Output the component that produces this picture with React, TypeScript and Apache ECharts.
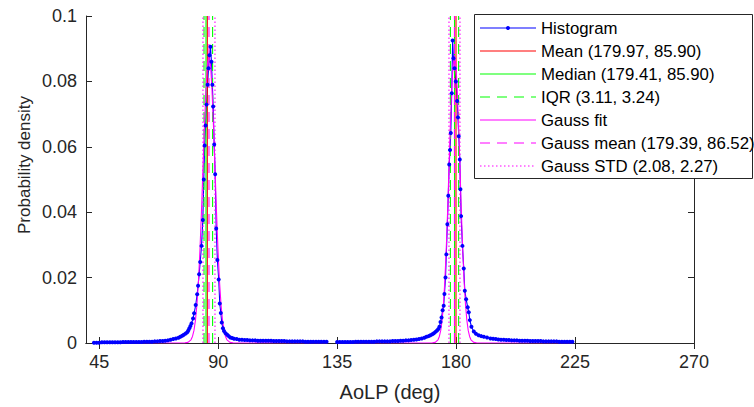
import React, { useEffect, useRef } from "react";
import * as echarts from "echarts";

const xTicks = [45, 90, 135, 180, 225, 270];

const histX1 = [43, 44, 45, 46, 47, 48, 49, 50, 51, 52, 53, 54, 55, 56, 57, 58, 59, 60, 61, 62, 63, 64, 65, 66, 67, 68, 69, 70, 71, 72, 73, 74, 75, 75.7, 76.4, 77, 77.7, 78.3, 78.7, 79.1, 79.5, 79.9, 80.5, 80.9, 81.5, 82.05, 82.4, 82.8, 83.2, 83.7, 84.2, 84.55, 84.9, 85.25, 85.6, 86.0, 86.35, 86.7, 87.1, 87.45, 87.8, 88.1, 88.5, 88.87, 89.25, 89.7, 90.2, 90.6, 91.0, 91.35, 91.8, 92.2, 92.8, 93.4, 94, 94.6, 95.3, 96, 97, 98, 99, 100, 101, 102, 103, 104, 105, 106, 107, 108, 109, 110, 111, 112, 113, 114, 115, 116, 117, 118, 119, 120, 121, 122, 123, 124, 125, 126, 127, 128, 129, 130, 131];
const histY1 = [0.0001, 0.0001, 0.0001, 0.0002, 0.0002, 0.0002, 0.0002, 0.0002, 0.0002, 0.0002, 0.0002, 0.0003, 0.0003, 0.0003, 0.0003, 0.0003, 0.0003, 0.0003, 0.0003, 0.0004, 0.0004, 0.0004, 0.0004, 0.0005, 0.0005, 0.0006, 0.0006, 0.0007, 0.0008, 0.001, 0.0012, 0.0014, 0.0016, 0.0019, 0.0022, 0.0025, 0.0029, 0.0033, 0.0038, 0.0045, 0.0052, 0.006, 0.0075, 0.0091, 0.0116, 0.0149, 0.0175, 0.021, 0.0248, 0.0297, 0.0376, 0.05, 0.0604, 0.0665, 0.0729, 0.079, 0.084, 0.088, 0.0906, 0.086, 0.079, 0.0723, 0.0607, 0.0516, 0.035, 0.0254, 0.0194, 0.0121, 0.0092, 0.0063, 0.0045, 0.0037, 0.003, 0.0025, 0.0021, 0.0017, 0.0015, 0.0013, 0.0012, 0.001, 0.001, 0.0009, 0.0009, 0.0008, 0.0008, 0.0008, 0.0007, 0.0007, 0.0007, 0.0007, 0.0007, 0.0007, 0.0006, 0.0006, 0.0006, 0.0006, 0.0006, 0.0005, 0.0005, 0.0005, 0.0005, 0.0005, 0.0005, 0.0005, 0.0004, 0.0004, 0.0004, 0.0004, 0.0004, 0.0004, 0.0004, 0.0004, 0.0004];

const histX2 = [135, 136, 137, 138, 139, 140, 141, 142, 143, 144, 145, 146, 147, 148, 149, 150, 151, 152, 153, 154, 155, 156, 157, 158, 159, 160, 161, 162, 163, 164, 165, 166, 167, 168, 168.8, 169.6, 170.3, 171, 171.6, 172.2, 172.8, 173.3, 173.7, 174.1, 174.5, 174.9, 175.3, 175.6, 176.0, 176.3, 176.7, 177.05, 177.4, 177.7, 178.0, 178.35, 178.7, 179.0, 179.4, 179.9, 180.4, 180.7, 181.0, 181.4, 181.65, 181.9, 182.4, 182.9, 183.3, 183.8, 184.4, 184.8, 185.2, 185.8, 186.7, 187.5, 188.5, 189.5, 190.5, 191.7, 193, 194, 195, 196, 197, 198, 199, 200, 201, 202, 203, 204, 205, 206, 207, 208, 209, 210, 211, 212, 213, 214, 215, 216, 217, 218, 219, 220, 221, 222, 223, 224];
const histY2 = [0.0003, 0.0003, 0.0003, 0.0003, 0.0003, 0.0003, 0.0003, 0.0004, 0.0004, 0.0004, 0.0004, 0.0004, 0.0004, 0.0004, 0.0004, 0.0005, 0.0005, 0.0005, 0.0005, 0.0005, 0.0005, 0.0006, 0.0006, 0.0006, 0.0007, 0.0007, 0.0008, 0.0008, 0.0009, 0.001, 0.0011, 0.0012, 0.0014, 0.0016, 0.0019, 0.0021, 0.0024, 0.0027, 0.003, 0.0034, 0.0038, 0.0043, 0.005, 0.0064, 0.0078, 0.01, 0.0114, 0.015, 0.02, 0.0271, 0.0363, 0.045, 0.0546, 0.059, 0.0642, 0.0764, 0.0925, 0.0871, 0.084, 0.08, 0.074, 0.069, 0.0632, 0.0561, 0.047, 0.0388, 0.0297, 0.0228, 0.016, 0.0134, 0.0109, 0.0094, 0.007, 0.005, 0.0035, 0.0028, 0.0024, 0.0021, 0.0019, 0.0017, 0.0014, 0.0013, 0.0012, 0.0011, 0.001, 0.001, 0.0009, 0.0009, 0.0008, 0.0008, 0.0008, 0.0007, 0.0007, 0.0007, 0.0007, 0.0006, 0.0006, 0.0006, 0.0006, 0.0006, 0.0005, 0.0005, 0.0005, 0.0005, 0.0005, 0.0005, 0.0004, 0.0004, 0.0004, 0.0004, 0.0004, 0.0004];

const gaussX1 = [43, 75, 77.44, 78.575, 79.71, 80.28, 80.845, 81.41, 81.98, 82.55, 83.115, 83.68, 84.25, 84.82, 85.385, 85.95, 86.52, 87.09, 87.655, 88.22, 88.79, 89.36, 89.925, 90.49, 91.06, 91.63, 92.195, 92.76, 93.33, 94.465, 95.6, 131.2];
const gaussY1 = [0, 0, 0.00003, 0.0002, 0.00098, 0.002, 0.00386, 0.007, 0.0119, 0.019, 0.0286, 0.0402, 0.0534, 0.0665, 0.0777, 0.0853, 0.088, 0.0853, 0.0777, 0.0665, 0.0534, 0.0402, 0.0286, 0.019, 0.0119, 0.007, 0.00386, 0.002, 0.00098, 0.0002, 0.00003, 0];

const gaussX2 = [135, 168, 171.07, 172.11, 173.15, 173.67, 174.19, 174.71, 175.23, 175.75, 176.27, 176.79, 177.31, 177.83, 178.35, 178.87, 179.39, 179.91, 180.43, 180.95, 181.47, 181.99, 182.51, 183.03, 183.55, 184.07, 184.59, 185.11, 185.63, 186.67, 187.71, 224];
const gaussY2 = [0, 0, 0.00003, 0.0002, 0.00098, 0.002, 0.00386, 0.007, 0.0119, 0.019, 0.0286, 0.0402, 0.0534, 0.0665, 0.0777, 0.0853, 0.088, 0.0853, 0.0777, 0.0665, 0.0534, 0.0402, 0.0286, 0.019, 0.0119, 0.007, 0.00386, 0.002, 0.00098, 0.0002, 0.00003, 0];

const meanVals = [85.9, 179.97];
const medianVals = [85.4, 179.41];
const iqrVals = [84.65, 87.89, 177.85, 180.96];
const gaussMeanVals = [86.52, 179.39];
const gaussStdVals = [84.25, 88.79, 177.31, 181.47];
const yRange = [0, 0.1];

const legendLabels = [
  "Histogram",
  "Mean (179.97, 85.90)",
  "Median (179.41, 85.90)",
  "IQR (3.11, 3.24)",
  "Gauss fit",
  "Gauss mean (179.39, 86.52)",
  "Gauss STD (2.08, 2.27)",
];

const FONT = "'Liberation Sans', Arial, Helvetica, sans-serif";
const AX = "#262626";

const zip = (xs: number[], ys: number[]) => xs.map((x, i) => [x, ys[i]]);

export default function App() {
  const ref = useRef<HTMLDivElement>(null);
  useEffect(() => {
    if (!ref.current) return;
    const chart = echarts.init(ref.current, null, { renderer: "svg" });

    const vlines = (vals: number[], color: string, type: any) =>
      vals.map((v) => ({
        type: "line",
        data: [
          [v, yRange[0]],
          [v, yRange[1]],
        ],
        symbol: "none",
        silent: true,
        lineStyle: { color, width: 1.1, type, opacity: 1 },
        emphasis: { disabled: true },
      }));

    const hist = (data: number[][]) => ({
      type: "line",
      data,
      symbol: "circle",
      symbolSize: 4,
      showSymbol: true,
      itemStyle: { color: "#0000ff" },
      lineStyle: { color: "#0000ff", width: 1.1 },
    });
    const gauss = (data: number[][]) => ({
      type: "line",
      data,
      symbol: "none",
      lineStyle: { color: "#ff00ff", width: 1.1 },
    });

    const DASH = [10, 7];
    const DOT = [1.5, 2.5];
    const rows = [
      { color: "#0000ff", dash: null, marker: true },
      { color: "#ff0000", dash: null },
      { color: "#00ff00", dash: null },
      { color: "#00ff00", dash: DASH },
      { color: "#ff00ff", dash: null },
      { color: "#ff00ff", dash: DASH },
      { color: "#ff00ff", dash: DOT },
    ];
    const els: any[] = [
      {
        type: "rect",
        id: "lg-box",
        z: 100,
        shape: { x: 474.5, y: 14.5, width: 278, height: 164 },
        style: { fill: "#ffffff", stroke: AX, lineWidth: 1 },
      },
      {
        type: "text",
        id: "ylabel",
        x: 24,
        y: 165,
        rotation: Math.PI / 2,
        style: {
          text: "Probability density",
          fill: AX,
          font: `17px ${FONT}`,
          align: "center",
          verticalAlign: "middle",
        },
      },
    ];
    rows.forEach((r: any, i) => {
      const y = 28 + i * 23;
      const st: any = { stroke: r.color, lineWidth: 1.2, fill: null, opacity: 1 };
      if (r.dash) st.lineDash = r.dash;
      els.push({
        type: "polyline",
        id: "lg-line-" + i,
        z: 101,
        shape: { points: [[480, y], [536, y]] },
        style: st,
      });
      if (r.marker) {
        els.push({
          type: "circle",
          id: "lg-mk-" + i,
          z: 102,
          shape: { cx: 508, cy: y, r: 2 },
          style: { fill: r.color },
        });
      }
      els.push({
        type: "text",
        id: "lg-tx-" + i,
        z: 102,
        x: 541,
        y,
        style: {
          text: legendLabels[i],
          fill: "#000000",
          font: `16.8px ${FONT}`,
          verticalAlign: "middle",
          align: "left",
        },
      });
    });

    const axisCommon = {
      axisLine: { show: true, lineStyle: { color: AX, width: 1 } },
      splitLine: { show: false },
    };

    chart.setOption({
      animation: false,
      grid: { left: 86, right: 60, top: 16, bottom: 63, containLabel: false },
      xAxis: [
        {
          type: "value",
          min: 40,
          max: 270,
          position: "bottom",
          ...axisCommon,
          axisTick: { show: true, inside: true, length: 6, customValues: xTicks, lineStyle: { color: AX } },
          axisLabel: { customValues: xTicks, fontSize: 18, color: AX, margin: 10, fontFamily: FONT },
          name: "AoLP (deg)",
          nameLocation: "middle",
          nameGap: 39,
          nameTextStyle: { fontSize: 20, color: AX, fontFamily: FONT },
        },
        {
          type: "value",
          min: 40,
          max: 270,
          position: "top",
          ...axisCommon,
          axisTick: { show: true, inside: true, length: 6, customValues: xTicks, lineStyle: { color: AX } },
          axisLabel: { show: false },
        },
      ],
      yAxis: [
        {
          type: "value",
          min: 0,
          max: 0.1,
          interval: 0.02,
          position: "left",
          ...axisCommon,
          axisTick: { show: true, inside: true, length: 6, lineStyle: { color: AX } },
          axisLabel: { fontSize: 18, color: AX, margin: 9, fontFamily: FONT },
        },
        {
          type: "value",
          min: 0,
          max: 0.1,
          interval: 0.02,
          position: "right",
          ...axisCommon,
          axisTick: { show: true, inside: true, length: 6, lineStyle: { color: AX } },
          axisLabel: { show: false },
        },
      ],
      series: [
        hist(zip(histX1, histY1)),
        hist(zip(histX2, histY2)),
        ...vlines(meanVals, "#ff0000", "solid"),
        ...vlines(medianVals, "#00ff00", "solid"),
        ...vlines(iqrVals, "#00ff00", DASH),
        gauss(zip(gaussX1, gaussY1)),
        gauss(zip(gaussX2, gaussY2)),
        ...vlines(gaussMeanVals, "#ff00ff", DASH),
        ...vlines(gaussStdVals, "#ff00ff", DOT),
      ],
      graphic: els,
    });
    return () => chart.dispose();
  }, []);
  return (
    <div
      ref={ref}
      style={{ position: "absolute", left: 0, top: 0, width: 754, height: 407, background: "#fff" }}
    />
  );
}
